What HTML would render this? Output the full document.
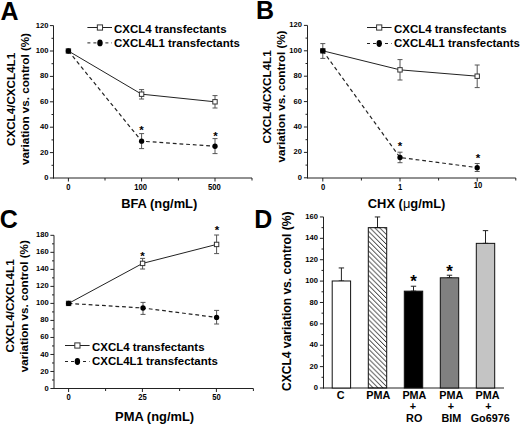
<!DOCTYPE html>
<html><head><meta charset="utf-8"><style>
html,body{margin:0;padding:0;background:#fff;width:520px;height:426px;overflow:hidden}
</style></head><body>
<svg width="520" height="426" viewBox="0 0 520 426" style="display:block">
<rect width="520" height="426" fill="#fff"/>
<g style="font-family:'Liberation Sans', sans-serif">
<text x="0.60" y="19.50" font-size="25" text-anchor="start" font-weight="bold" fill="#000">A</text>
<text x="256.10" y="19.30" font-size="25" text-anchor="start" font-weight="bold" fill="#000">B</text>
<text x="-0.20" y="228.30" font-size="25" text-anchor="start" font-weight="bold" fill="#000">C</text>
<text x="254.30" y="228.40" font-size="25" text-anchor="start" font-weight="bold" fill="#000">D</text>
<line x1="53.50" y1="178.50" x2="53.50" y2="25.60" stroke="#222" stroke-width="1"/>
<line x1="49.90" y1="178.00" x2="53.50" y2="178.00" stroke="#222" stroke-width="1"/>
<text x="48.50" y="180.04" font-size="7.6" text-anchor="end" font-weight="bold" fill="#000">0</text>
<line x1="51.50" y1="165.30" x2="53.50" y2="165.30" stroke="#222" stroke-width="1"/>
<line x1="49.90" y1="152.60" x2="53.50" y2="152.60" stroke="#222" stroke-width="1"/>
<text x="48.50" y="154.64" font-size="7.6" text-anchor="end" font-weight="bold" fill="#000">20</text>
<line x1="51.50" y1="139.90" x2="53.50" y2="139.90" stroke="#222" stroke-width="1"/>
<line x1="49.90" y1="127.20" x2="53.50" y2="127.20" stroke="#222" stroke-width="1"/>
<text x="48.50" y="129.24" font-size="7.6" text-anchor="end" font-weight="bold" fill="#000">40</text>
<line x1="51.50" y1="114.50" x2="53.50" y2="114.50" stroke="#222" stroke-width="1"/>
<line x1="49.90" y1="101.80" x2="53.50" y2="101.80" stroke="#222" stroke-width="1"/>
<text x="48.50" y="103.84" font-size="7.6" text-anchor="end" font-weight="bold" fill="#000">60</text>
<line x1="51.50" y1="89.10" x2="53.50" y2="89.10" stroke="#222" stroke-width="1"/>
<line x1="49.90" y1="76.40" x2="53.50" y2="76.40" stroke="#222" stroke-width="1"/>
<text x="48.50" y="78.44" font-size="7.6" text-anchor="end" font-weight="bold" fill="#000">80</text>
<line x1="51.50" y1="63.70" x2="53.50" y2="63.70" stroke="#222" stroke-width="1"/>
<line x1="49.90" y1="51.00" x2="53.50" y2="51.00" stroke="#222" stroke-width="1"/>
<text x="48.50" y="53.04" font-size="7.6" text-anchor="end" font-weight="bold" fill="#000">100</text>
<line x1="51.50" y1="38.30" x2="53.50" y2="38.30" stroke="#222" stroke-width="1"/>
<line x1="49.90" y1="25.60" x2="53.50" y2="25.60" stroke="#222" stroke-width="1"/>
<text x="48.50" y="27.64" font-size="7.6" text-anchor="end" font-weight="bold" fill="#000">120</text>
<line x1="53.00" y1="178.00" x2="252.00" y2="178.00" stroke="#222" stroke-width="1"/>
<line x1="68.40" y1="178.00" x2="68.40" y2="181.50" stroke="#222" stroke-width="1"/>
<line x1="105.00" y1="178.00" x2="105.00" y2="180.50" stroke="#222" stroke-width="1"/>
<line x1="141.60" y1="178.00" x2="141.60" y2="181.50" stroke="#222" stroke-width="1"/>
<line x1="178.40" y1="178.00" x2="178.40" y2="180.50" stroke="#222" stroke-width="1"/>
<line x1="215.00" y1="178.00" x2="215.00" y2="181.50" stroke="#222" stroke-width="1"/>
<line x1="252.00" y1="178.00" x2="252.00" y2="180.50" stroke="#222" stroke-width="1"/>
<text transform="translate(68.30,190.30) scale(0.92,1)" font-size="8.3" text-anchor="middle" font-weight="bold" fill="#000">0</text>
<text transform="translate(140.60,190.30) scale(0.92,1)" font-size="8.3" text-anchor="middle" font-weight="bold" fill="#000">100</text>
<text transform="translate(214.40,190.30) scale(0.92,1)" font-size="8.3" text-anchor="middle" font-weight="bold" fill="#000">500</text>
<text x="159.20" y="208.20" font-size="12.9" text-anchor="middle" font-weight="bold" fill="#000">BFA (ng/mL)</text>
<text transform="translate(15.30,99.40) rotate(-90)" font-size="11.65" text-anchor="middle" font-weight="bold" fill="#000">CXCL4/CXCL4L1</text>
<text transform="translate(28.90,99.00) rotate(-90)" font-size="11.65" text-anchor="middle" font-weight="bold" fill="#000">variation vs. control (%)</text>
<polyline points="68.4,51.00 141.6,94.18 215,101.80" fill="none" stroke="#222" stroke-width="1"/>
<polyline points="68.4,51.00 141.6,141.17 215,146.25" fill="none" stroke="#222" stroke-width="1.2" stroke-dasharray="3.8,2.9"/>
<line x1="141.60" y1="89.60" x2="141.60" y2="99.00" stroke="#555" stroke-width="1"/>
<line x1="139.10" y1="89.60" x2="144.10" y2="89.60" stroke="#555" stroke-width="1"/>
<line x1="139.10" y1="99.00" x2="144.10" y2="99.00" stroke="#555" stroke-width="1"/>
<line x1="215.00" y1="95.60" x2="215.00" y2="108.00" stroke="#555" stroke-width="1"/>
<line x1="212.50" y1="95.60" x2="217.50" y2="95.60" stroke="#555" stroke-width="1"/>
<line x1="212.50" y1="108.00" x2="217.50" y2="108.00" stroke="#555" stroke-width="1"/>
<line x1="141.60" y1="133.60" x2="141.60" y2="148.60" stroke="#555" stroke-width="1"/>
<line x1="139.10" y1="133.60" x2="144.10" y2="133.60" stroke="#555" stroke-width="1"/>
<line x1="139.10" y1="148.60" x2="144.10" y2="148.60" stroke="#555" stroke-width="1"/>
<line x1="215.00" y1="138.60" x2="215.00" y2="153.60" stroke="#555" stroke-width="1"/>
<line x1="212.50" y1="138.60" x2="217.50" y2="138.60" stroke="#555" stroke-width="1"/>
<line x1="212.50" y1="153.60" x2="217.50" y2="153.60" stroke="#555" stroke-width="1"/>
<rect x="139.40" y="91.98" width="4.4" height="4.4" fill="#fff" stroke="#333" stroke-width="1"/>
<rect x="212.80" y="99.60" width="4.4" height="4.4" fill="#fff" stroke="#333" stroke-width="1"/>
<rect x="66.20" y="48.80" width="4.4" height="4.4" fill="#fff" stroke="#333" stroke-width="1"/>
<circle cx="68.40" cy="51.00" r="2.65" fill="#000"/>
<circle cx="141.60" cy="141.17" r="2.65" fill="#000"/>
<circle cx="215.00" cy="146.25" r="2.65" fill="#000"/>
<text x="141.60" y="134.07" font-size="11.5" text-anchor="middle" font-weight="bold" fill="#000">*</text>
<text x="215.60" y="139.87" font-size="11.5" text-anchor="middle" font-weight="bold" fill="#000">*</text>
<line x1="87.40" y1="27.50" x2="112.00" y2="27.50" stroke="#222" stroke-width="1"/>
<rect x="97.35" y="24.90" width="5.2" height="5.2" fill="#fff" stroke="#333" stroke-width="1"/>
<line x1="87.40" y1="42.90" x2="112.00" y2="42.90" stroke="#222" stroke-width="1" stroke-dasharray="3,3"/>
<ellipse cx="99.95" cy="42.90" rx="2.7" ry="3.4" fill="#000"/>
<text x="114.00" y="32.70" font-size="11.45" text-anchor="start" font-weight="bold" fill="#000">CXCL4 transfectants</text>
<text x="114.00" y="46.50" font-size="11.45" text-anchor="start" font-weight="bold" fill="#000">CXCL4L1 transfectants</text>
<line x1="307.50" y1="178.30" x2="307.50" y2="25.40" stroke="#222" stroke-width="1"/>
<line x1="303.90" y1="177.80" x2="307.50" y2="177.80" stroke="#222" stroke-width="1"/>
<text x="301.90" y="179.84" font-size="7.6" text-anchor="end" font-weight="bold" fill="#000">0</text>
<line x1="305.50" y1="165.10" x2="307.50" y2="165.10" stroke="#222" stroke-width="1"/>
<line x1="303.90" y1="152.40" x2="307.50" y2="152.40" stroke="#222" stroke-width="1"/>
<text x="301.90" y="154.44" font-size="7.6" text-anchor="end" font-weight="bold" fill="#000">20</text>
<line x1="305.50" y1="139.70" x2="307.50" y2="139.70" stroke="#222" stroke-width="1"/>
<line x1="303.90" y1="127.00" x2="307.50" y2="127.00" stroke="#222" stroke-width="1"/>
<text x="301.90" y="129.04" font-size="7.6" text-anchor="end" font-weight="bold" fill="#000">40</text>
<line x1="305.50" y1="114.30" x2="307.50" y2="114.30" stroke="#222" stroke-width="1"/>
<line x1="303.90" y1="101.60" x2="307.50" y2="101.60" stroke="#222" stroke-width="1"/>
<text x="301.90" y="103.64" font-size="7.6" text-anchor="end" font-weight="bold" fill="#000">60</text>
<line x1="305.50" y1="88.90" x2="307.50" y2="88.90" stroke="#222" stroke-width="1"/>
<line x1="303.90" y1="76.20" x2="307.50" y2="76.20" stroke="#222" stroke-width="1"/>
<text x="301.90" y="78.24" font-size="7.6" text-anchor="end" font-weight="bold" fill="#000">80</text>
<line x1="305.50" y1="63.50" x2="307.50" y2="63.50" stroke="#222" stroke-width="1"/>
<line x1="303.90" y1="50.80" x2="307.50" y2="50.80" stroke="#222" stroke-width="1"/>
<text x="301.90" y="52.84" font-size="7.6" text-anchor="end" font-weight="bold" fill="#000">100</text>
<line x1="305.50" y1="38.10" x2="307.50" y2="38.10" stroke="#222" stroke-width="1"/>
<line x1="303.90" y1="25.40" x2="307.50" y2="25.40" stroke="#222" stroke-width="1"/>
<text x="301.90" y="27.44" font-size="7.6" text-anchor="end" font-weight="bold" fill="#000">120</text>
<line x1="307.00" y1="178.00" x2="515.80" y2="178.00" stroke="#222" stroke-width="1"/>
<line x1="322.80" y1="178.00" x2="322.80" y2="181.50" stroke="#222" stroke-width="1"/>
<line x1="361.40" y1="178.00" x2="361.40" y2="180.50" stroke="#222" stroke-width="1"/>
<line x1="400.00" y1="178.00" x2="400.00" y2="181.50" stroke="#222" stroke-width="1"/>
<line x1="438.60" y1="178.00" x2="438.60" y2="180.50" stroke="#222" stroke-width="1"/>
<line x1="477.20" y1="178.00" x2="477.20" y2="181.50" stroke="#222" stroke-width="1"/>
<line x1="515.80" y1="178.00" x2="515.80" y2="180.50" stroke="#222" stroke-width="1"/>
<text transform="translate(323.10,190.10) scale(0.92,1)" font-size="8.3" text-anchor="middle" font-weight="bold" fill="#000">0</text>
<text transform="translate(400.00,190.10) scale(0.92,1)" font-size="8.3" text-anchor="middle" font-weight="bold" fill="#000">1</text>
<text transform="translate(477.9,188.3) scale(0.92,1)" font-size="8.3" text-anchor="middle" font-weight="bold" fill="#000">10</text>
<text x="406.60" y="207.80" font-size="12.9" text-anchor="middle" font-weight="bold" fill="#000">CHX (<tspan font-weight="normal">μ</tspan>g/mL)</text>
<text transform="translate(271.20,96.90) rotate(-90)" font-size="11.65" text-anchor="middle" font-weight="bold" fill="#000">CXCL4/CXCL4L1</text>
<text transform="translate(285.00,96.50) rotate(-90)" font-size="11.65" text-anchor="middle" font-weight="bold" fill="#000">variation vs. control (%)</text>
<polyline points="322.8,50.80 400,69.85 477.2,76.20" fill="none" stroke="#222" stroke-width="1"/>
<polyline points="322.8,50.80 400,157.48 477.2,167.64" fill="none" stroke="#222" stroke-width="1.2" stroke-dasharray="3.8,2.9"/>
<line x1="322.80" y1="43.60" x2="322.80" y2="58.40" stroke="#555" stroke-width="1"/>
<line x1="320.30" y1="43.60" x2="325.30" y2="43.60" stroke="#555" stroke-width="1"/>
<line x1="320.30" y1="58.40" x2="325.30" y2="58.40" stroke="#555" stroke-width="1"/>
<line x1="400.00" y1="59.60" x2="400.00" y2="80.00" stroke="#555" stroke-width="1"/>
<line x1="397.50" y1="59.60" x2="402.50" y2="59.60" stroke="#555" stroke-width="1"/>
<line x1="397.50" y1="80.00" x2="402.50" y2="80.00" stroke="#555" stroke-width="1"/>
<line x1="477.20" y1="65.00" x2="477.20" y2="87.60" stroke="#555" stroke-width="1"/>
<line x1="474.70" y1="65.00" x2="479.70" y2="65.00" stroke="#555" stroke-width="1"/>
<line x1="474.70" y1="87.60" x2="479.70" y2="87.60" stroke="#555" stroke-width="1"/>
<line x1="400.00" y1="152.20" x2="400.00" y2="162.70" stroke="#555" stroke-width="1"/>
<line x1="397.50" y1="152.20" x2="402.50" y2="152.20" stroke="#555" stroke-width="1"/>
<line x1="397.50" y1="162.70" x2="402.50" y2="162.70" stroke="#555" stroke-width="1"/>
<line x1="477.20" y1="163.50" x2="477.20" y2="171.50" stroke="#555" stroke-width="1"/>
<line x1="474.70" y1="163.50" x2="479.70" y2="163.50" stroke="#555" stroke-width="1"/>
<line x1="474.70" y1="171.50" x2="479.70" y2="171.50" stroke="#555" stroke-width="1"/>
<rect x="397.80" y="67.65" width="4.4" height="4.4" fill="#fff" stroke="#333" stroke-width="1"/>
<rect x="475.00" y="74.00" width="4.4" height="4.4" fill="#fff" stroke="#333" stroke-width="1"/>
<rect x="320.60" y="48.60" width="4.4" height="4.4" fill="#fff" stroke="#333" stroke-width="1"/>
<circle cx="322.80" cy="50.80" r="2.65" fill="#000"/>
<circle cx="400.00" cy="157.48" r="2.65" fill="#000"/>
<circle cx="477.20" cy="167.64" r="2.65" fill="#000"/>
<text x="400.00" y="149.77" font-size="11.5" text-anchor="middle" font-weight="bold" fill="#000">*</text>
<text x="478.10" y="161.97" font-size="11.5" text-anchor="middle" font-weight="bold" fill="#000">*</text>
<line x1="367.00" y1="27.50" x2="391.60" y2="27.50" stroke="#222" stroke-width="1"/>
<rect x="376.60" y="24.90" width="5.2" height="5.2" fill="#fff" stroke="#333" stroke-width="1"/>
<line x1="367.00" y1="43.50" x2="391.60" y2="43.50" stroke="#222" stroke-width="1" stroke-dasharray="3,3"/>
<ellipse cx="379.20" cy="43.50" rx="2.7" ry="3.4" fill="#000"/>
<text x="394.00" y="32.80" font-size="11.45" text-anchor="start" font-weight="bold" fill="#000">CXCL4 transfectants</text>
<text x="394.00" y="46.90" font-size="11.45" text-anchor="start" font-weight="bold" fill="#000">CXCL4L1 transfectants</text>
<line x1="54.00" y1="389.00" x2="54.00" y2="235.32" stroke="#222" stroke-width="1"/>
<line x1="50.40" y1="388.50" x2="54.00" y2="388.50" stroke="#222" stroke-width="1"/>
<text x="48.70" y="390.54" font-size="7.6" text-anchor="end" font-weight="bold" fill="#000">0</text>
<line x1="52.00" y1="379.99" x2="54.00" y2="379.99" stroke="#222" stroke-width="1"/>
<line x1="50.40" y1="371.48" x2="54.00" y2="371.48" stroke="#222" stroke-width="1"/>
<text x="48.70" y="373.52" font-size="7.6" text-anchor="end" font-weight="bold" fill="#000">20</text>
<line x1="52.00" y1="362.97" x2="54.00" y2="362.97" stroke="#222" stroke-width="1"/>
<line x1="50.40" y1="354.46" x2="54.00" y2="354.46" stroke="#222" stroke-width="1"/>
<text x="48.70" y="356.50" font-size="7.6" text-anchor="end" font-weight="bold" fill="#000">40</text>
<line x1="52.00" y1="345.95" x2="54.00" y2="345.95" stroke="#222" stroke-width="1"/>
<line x1="50.40" y1="337.44" x2="54.00" y2="337.44" stroke="#222" stroke-width="1"/>
<text x="48.70" y="339.48" font-size="7.6" text-anchor="end" font-weight="bold" fill="#000">60</text>
<line x1="52.00" y1="328.93" x2="54.00" y2="328.93" stroke="#222" stroke-width="1"/>
<line x1="50.40" y1="320.42" x2="54.00" y2="320.42" stroke="#222" stroke-width="1"/>
<text x="48.70" y="322.46" font-size="7.6" text-anchor="end" font-weight="bold" fill="#000">80</text>
<line x1="52.00" y1="311.91" x2="54.00" y2="311.91" stroke="#222" stroke-width="1"/>
<line x1="50.40" y1="303.40" x2="54.00" y2="303.40" stroke="#222" stroke-width="1"/>
<text x="48.70" y="305.44" font-size="7.6" text-anchor="end" font-weight="bold" fill="#000">100</text>
<line x1="52.00" y1="294.89" x2="54.00" y2="294.89" stroke="#222" stroke-width="1"/>
<line x1="50.40" y1="286.38" x2="54.00" y2="286.38" stroke="#222" stroke-width="1"/>
<text x="48.70" y="288.42" font-size="7.6" text-anchor="end" font-weight="bold" fill="#000">120</text>
<line x1="52.00" y1="277.87" x2="54.00" y2="277.87" stroke="#222" stroke-width="1"/>
<line x1="50.40" y1="269.36" x2="54.00" y2="269.36" stroke="#222" stroke-width="1"/>
<text x="48.70" y="271.40" font-size="7.6" text-anchor="end" font-weight="bold" fill="#000">140</text>
<line x1="52.00" y1="260.85" x2="54.00" y2="260.85" stroke="#222" stroke-width="1"/>
<line x1="50.40" y1="252.34" x2="54.00" y2="252.34" stroke="#222" stroke-width="1"/>
<text x="48.70" y="254.38" font-size="7.6" text-anchor="end" font-weight="bold" fill="#000">160</text>
<line x1="52.00" y1="243.83" x2="54.00" y2="243.83" stroke="#222" stroke-width="1"/>
<line x1="50.40" y1="235.32" x2="54.00" y2="235.32" stroke="#222" stroke-width="1"/>
<text x="48.70" y="237.36" font-size="7.6" text-anchor="end" font-weight="bold" fill="#000">180</text>
<line x1="53.50" y1="388.50" x2="253.40" y2="388.50" stroke="#222" stroke-width="1"/>
<line x1="68.60" y1="388.50" x2="68.60" y2="392.00" stroke="#222" stroke-width="1"/>
<line x1="105.60" y1="388.50" x2="105.60" y2="391.00" stroke="#222" stroke-width="1"/>
<line x1="142.40" y1="388.50" x2="142.40" y2="392.00" stroke="#222" stroke-width="1"/>
<line x1="179.60" y1="388.50" x2="179.60" y2="391.00" stroke="#222" stroke-width="1"/>
<line x1="216.40" y1="388.50" x2="216.40" y2="392.00" stroke="#222" stroke-width="1"/>
<line x1="253.40" y1="388.50" x2="253.40" y2="391.00" stroke="#222" stroke-width="1"/>
<text transform="translate(68.60,400.00) scale(0.92,1)" font-size="8.3" text-anchor="middle" font-weight="bold" fill="#000">0</text>
<text transform="translate(142.40,400.00) scale(0.92,1)" font-size="8.3" text-anchor="middle" font-weight="bold" fill="#000">25</text>
<text transform="translate(216.40,400.00) scale(0.92,1)" font-size="8.3" text-anchor="middle" font-weight="bold" fill="#000">50</text>
<text x="154.60" y="421.20" font-size="12.9" text-anchor="middle" font-weight="bold" fill="#000">PMA (ng/mL)</text>
<text transform="translate(13.80,305.90) rotate(-90)" font-size="11.65" text-anchor="middle" font-weight="bold" fill="#000">CXCL4/CXCL4L1</text>
<text transform="translate(28.30,306.20) rotate(-90)" font-size="11.65" text-anchor="middle" font-weight="bold" fill="#000">variation vs. control (%)</text>
<polyline points="68.6,303.40 142.6,263.40 216.6,244.43" fill="none" stroke="#222" stroke-width="1"/>
<polyline points="68.6,303.40 143,308.00 216.6,317.44" fill="none" stroke="#222" stroke-width="1.2" stroke-dasharray="3.8,2.9"/>
<line x1="142.60" y1="258.40" x2="142.60" y2="269.00" stroke="#555" stroke-width="1"/>
<line x1="140.10" y1="258.40" x2="145.10" y2="258.40" stroke="#555" stroke-width="1"/>
<line x1="140.10" y1="269.00" x2="145.10" y2="269.00" stroke="#555" stroke-width="1"/>
<line x1="216.60" y1="235.00" x2="216.60" y2="253.60" stroke="#555" stroke-width="1"/>
<line x1="214.10" y1="235.00" x2="219.10" y2="235.00" stroke="#555" stroke-width="1"/>
<line x1="214.10" y1="253.60" x2="219.10" y2="253.60" stroke="#555" stroke-width="1"/>
<line x1="143.00" y1="302.40" x2="143.00" y2="314.40" stroke="#555" stroke-width="1"/>
<line x1="140.50" y1="302.40" x2="145.50" y2="302.40" stroke="#555" stroke-width="1"/>
<line x1="140.50" y1="314.40" x2="145.50" y2="314.40" stroke="#555" stroke-width="1"/>
<line x1="216.60" y1="310.40" x2="216.60" y2="324.00" stroke="#555" stroke-width="1"/>
<line x1="214.10" y1="310.40" x2="219.10" y2="310.40" stroke="#555" stroke-width="1"/>
<line x1="214.10" y1="324.00" x2="219.10" y2="324.00" stroke="#555" stroke-width="1"/>
<rect x="140.40" y="261.20" width="4.4" height="4.4" fill="#fff" stroke="#333" stroke-width="1"/>
<rect x="214.40" y="242.23" width="4.4" height="4.4" fill="#fff" stroke="#333" stroke-width="1"/>
<rect x="66.40" y="301.20" width="4.4" height="4.4" fill="#fff" stroke="#333" stroke-width="1"/>
<circle cx="68.60" cy="303.40" r="2.65" fill="#000"/>
<circle cx="143.00" cy="308.00" r="2.65" fill="#000"/>
<circle cx="216.60" cy="317.44" r="2.65" fill="#000"/>
<text x="142.50" y="260.27" font-size="11.5" text-anchor="middle" font-weight="bold" fill="#000">*</text>
<text x="217.00" y="233.87" font-size="11.5" text-anchor="middle" font-weight="bold" fill="#000">*</text>
<line x1="65.00" y1="345.50" x2="89.60" y2="345.50" stroke="#222" stroke-width="1"/>
<rect x="74.80" y="342.90" width="5.2" height="5.2" fill="#fff" stroke="#333" stroke-width="1"/>
<line x1="65.00" y1="361.50" x2="89.60" y2="361.50" stroke="#222" stroke-width="1" stroke-dasharray="3,3"/>
<ellipse cx="77.40" cy="361.50" rx="2.7" ry="3.4" fill="#000"/>
<text x="92.00" y="351.00" font-size="11.45" text-anchor="start" font-weight="bold" fill="#000">CXCL4 transfectants</text>
<text x="92.00" y="365.30" font-size="11.45" text-anchor="start" font-weight="bold" fill="#000">CXCL4L1 transfectants</text>
<line x1="323.50" y1="388.50" x2="323.50" y2="216.96" stroke="#222" stroke-width="1"/>
<line x1="319.90" y1="388.00" x2="323.50" y2="388.00" stroke="#222" stroke-width="1"/>
<text x="317.90" y="390.04" font-size="7.6" text-anchor="end" font-weight="bold" fill="#000">0</text>
<line x1="321.50" y1="377.31" x2="323.50" y2="377.31" stroke="#222" stroke-width="1"/>
<line x1="319.90" y1="366.62" x2="323.50" y2="366.62" stroke="#222" stroke-width="1"/>
<text x="317.90" y="368.66" font-size="7.6" text-anchor="end" font-weight="bold" fill="#000">20</text>
<line x1="321.50" y1="355.93" x2="323.50" y2="355.93" stroke="#222" stroke-width="1"/>
<line x1="319.90" y1="345.24" x2="323.50" y2="345.24" stroke="#222" stroke-width="1"/>
<text x="317.90" y="347.28" font-size="7.6" text-anchor="end" font-weight="bold" fill="#000">40</text>
<line x1="321.50" y1="334.55" x2="323.50" y2="334.55" stroke="#222" stroke-width="1"/>
<line x1="319.90" y1="323.86" x2="323.50" y2="323.86" stroke="#222" stroke-width="1"/>
<text x="317.90" y="325.90" font-size="7.6" text-anchor="end" font-weight="bold" fill="#000">60</text>
<line x1="321.50" y1="313.17" x2="323.50" y2="313.17" stroke="#222" stroke-width="1"/>
<line x1="319.90" y1="302.48" x2="323.50" y2="302.48" stroke="#222" stroke-width="1"/>
<text x="317.90" y="304.52" font-size="7.6" text-anchor="end" font-weight="bold" fill="#000">80</text>
<line x1="321.50" y1="291.79" x2="323.50" y2="291.79" stroke="#222" stroke-width="1"/>
<line x1="319.90" y1="281.10" x2="323.50" y2="281.10" stroke="#222" stroke-width="1"/>
<text x="317.90" y="283.14" font-size="7.6" text-anchor="end" font-weight="bold" fill="#000">100</text>
<line x1="321.50" y1="270.41" x2="323.50" y2="270.41" stroke="#222" stroke-width="1"/>
<line x1="319.90" y1="259.72" x2="323.50" y2="259.72" stroke="#222" stroke-width="1"/>
<text x="317.90" y="261.76" font-size="7.6" text-anchor="end" font-weight="bold" fill="#000">120</text>
<line x1="321.50" y1="249.03" x2="323.50" y2="249.03" stroke="#222" stroke-width="1"/>
<line x1="319.90" y1="238.34" x2="323.50" y2="238.34" stroke="#222" stroke-width="1"/>
<text x="317.90" y="240.38" font-size="7.6" text-anchor="end" font-weight="bold" fill="#000">140</text>
<line x1="321.50" y1="227.65" x2="323.50" y2="227.65" stroke="#222" stroke-width="1"/>
<line x1="319.90" y1="216.96" x2="323.50" y2="216.96" stroke="#222" stroke-width="1"/>
<text x="317.90" y="219.00" font-size="7.6" text-anchor="end" font-weight="bold" fill="#000">160</text>
<line x1="323.00" y1="388.00" x2="504.00" y2="388.00" stroke="#222" stroke-width="1"/>
<text transform="translate(290.50,301.30) rotate(-90)" font-size="12.05" text-anchor="middle" font-weight="bold" fill="#000">CXCL4 variation vs. control (%)</text>
<defs><pattern id="hatch" patternUnits="userSpaceOnUse" width="4.9" height="4.9" patternTransform="rotate(0)"><path d="M-1,-1 L6,6 M-1,3.9 L1,5.9 M3.9,-1 L5.9,1" stroke="#000" stroke-width="0.9"/></pattern></defs>
<line x1="341.40" y1="267.95" x2="341.40" y2="280.99" stroke="#222" stroke-width="1"/>
<line x1="338.70" y1="267.95" x2="344.10" y2="267.95" stroke="#222" stroke-width="1"/>
<line x1="338.70" y1="280.99" x2="344.10" y2="280.99" stroke="#222" stroke-width="1"/>
<rect x="332.20" y="280.99" width="18.4" height="107.01" fill="#fff" stroke="#111" stroke-width="1"/>
<line x1="377.50" y1="216.96" x2="377.50" y2="227.65" stroke="#222" stroke-width="1"/>
<line x1="374.80" y1="216.96" x2="380.20" y2="216.96" stroke="#222" stroke-width="1"/>
<line x1="374.80" y1="227.65" x2="380.20" y2="227.65" stroke="#222" stroke-width="1"/>
<rect x="368.30" y="227.65" width="18.4" height="160.35" fill="url(#hatch)" stroke="#111" stroke-width="1"/>
<line x1="413.50" y1="286.23" x2="413.50" y2="291.15" stroke="#222" stroke-width="1"/>
<line x1="410.80" y1="286.23" x2="416.20" y2="286.23" stroke="#222" stroke-width="1"/>
<line x1="410.80" y1="291.15" x2="416.20" y2="291.15" stroke="#222" stroke-width="1"/>
<rect x="404.30" y="291.15" width="18.4" height="96.85" fill="#000" stroke="#111" stroke-width="1"/>
<text x="413.50" y="287.00" font-size="17" text-anchor="middle" font-weight="bold" fill="#000">*</text>
<line x1="449.50" y1="275.22" x2="449.50" y2="277.79" stroke="#222" stroke-width="1"/>
<line x1="446.80" y1="275.22" x2="452.20" y2="275.22" stroke="#222" stroke-width="1"/>
<line x1="446.80" y1="277.79" x2="452.20" y2="277.79" stroke="#222" stroke-width="1"/>
<rect x="440.30" y="277.79" width="18.4" height="110.21" fill="#808080" stroke="#111" stroke-width="1"/>
<text x="449.50" y="276.50" font-size="17" text-anchor="middle" font-weight="bold" fill="#000">*</text>
<line x1="485.50" y1="230.64" x2="485.50" y2="243.36" stroke="#222" stroke-width="1"/>
<line x1="482.80" y1="230.64" x2="488.20" y2="230.64" stroke="#222" stroke-width="1"/>
<line x1="482.80" y1="243.36" x2="488.20" y2="243.36" stroke="#222" stroke-width="1"/>
<rect x="476.30" y="243.36" width="18.4" height="144.64" fill="#c4c4c4" stroke="#111" stroke-width="1"/>
<text x="340.70" y="399.00" font-size="10.8" text-anchor="middle" font-weight="bold" fill="#000">C</text>
<text x="378.30" y="399.00" font-size="10.8" text-anchor="middle" font-weight="bold" fill="#000">PMA</text>
<text x="414.40" y="399.00" font-size="10.8" text-anchor="middle" font-weight="bold" fill="#000">PMA</text>
<text x="413.00" y="410.40" font-size="10.8" text-anchor="middle" font-weight="bold" fill="#000">+</text>
<text x="414.20" y="421.80" font-size="10.8" text-anchor="middle" font-weight="bold" fill="#000">RO</text>
<text x="451.30" y="399.00" font-size="10.8" text-anchor="middle" font-weight="bold" fill="#000">PMA</text>
<text x="451.00" y="410.40" font-size="10.8" text-anchor="middle" font-weight="bold" fill="#000">+</text>
<text x="451.30" y="421.80" font-size="10.8" text-anchor="middle" font-weight="bold" fill="#000">BIM</text>
<text x="487.60" y="399.00" font-size="10.8" text-anchor="middle" font-weight="bold" fill="#000">PMA</text>
<text x="488.40" y="410.40" font-size="10.8" text-anchor="middle" font-weight="bold" fill="#000">+</text>
<text x="490.20" y="421.80" font-size="10.8" text-anchor="middle" font-weight="bold" fill="#000">Go6976</text>
</g></svg>
</body></html>
